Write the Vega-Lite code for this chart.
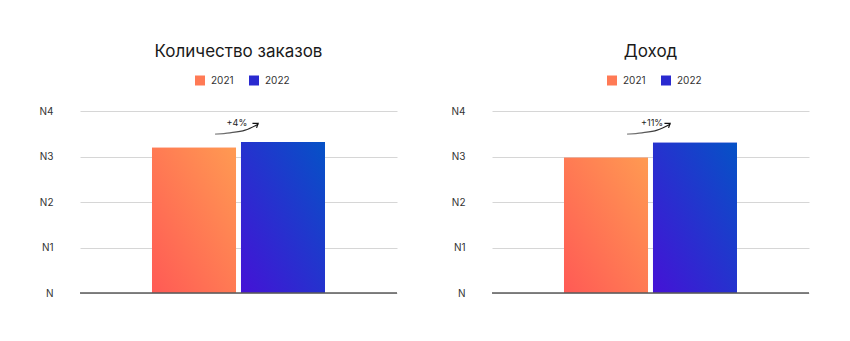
{
  "$schema": "https://vega.github.io/schema/vega-lite/v6.json",
  "background": "white",
  "padding": {"left": 39, "top": 43, "right": 5, "bottom": 5},
  "config": {
    "view": {"stroke": null},
    "font": "Inter",
    "title": {"font": "Inter", "fontSize": 17, "fontWeight": "normal", "color": "#1a1a1a", "anchor": "middle"},
    "axis": {"labelFont": "Inter", "labelFontSize": 10, "labelColor": "#333333"}
  },
  "datasets": {
    "bars": [
      {"panel": "orders", "year": "2021", "value": 3.19},
      {"panel": "orders", "year": "2022", "value": 3.32},
      {"panel": "revenue", "year": "2021", "value": 2.97},
      {"panel": "revenue", "year": "2022", "value": 3.3}
    ],
    "curve": [
      {"pos": 0.426, "v": 3.49, "k": 1},
      {"pos": 0.473, "v": 3.52, "k": 2},
      {"pos": 0.521, "v": 3.58, "k": 3},
      {"pos": 0.562, "v": 3.71, "k": 4}
    ],
    "head": [
      {"pos": 0.544, "v": 3.73, "k": 1},
      {"pos": 0.562, "v": 3.73, "k": 2},
      {"pos": 0.557, "v": 3.63, "k": 3}
    ],
    "labels": [
      {"panel": "orders", "pos": 0.495, "v": 3.74, "label": "+4%"},
      {"panel": "revenue", "pos": 0.505, "v": 3.74, "label": "+11%"}
    ],
    "base": [{"v": 0}]
  },
  "spacing": 53,
  "hconcat": [
    {
      "width": 317,
      "height": 182,
      "title": {"text": "Количество заказов", "offset": 14.5},
      "resolve": {"scale": {"x": "independent"}},
      "layer": [
        {
          "data": {"name": "bars"},
          "transform": [{"filter": "datum.panel === 'orders'"}],
          "mark": {"type": "bar"},
          "encoding": {
            "x": {"field": "year", "type": "nominal", "axis": null, "scale": {"domain": ["2021", "2022"], "paddingInner": 0.056, "paddingOuter": 0.809}},
            "y": {"field": "value", "type": "quantitative", "scale": {"domain": [0, 4], "nice": false},
              "axis": {"values": [0, 1, 2, 3, 4], "labelExpr": "datum.value === 0 ? 'N' : 'N' + datum.value", "title": null, "domain": false, "ticks": false, "grid": true, "gridColor": "#d6d6d6", "gridWidth": 1, "labelPadding": 27}},
            "color": {"field": "year", "type": "nominal", "scale": {"domain": ["2021", "2022"], "range": ["#FF7A55", "#2A2AD0"]},
              "legend": {"title": null, "orient": "none", "legendX": 115, "legendY": -35.5, "direction": "horizontal", "symbolType": "square", "symbolSize": 100, "symbolStrokeWidth": 0, "labelFont": "Inter", "labelFontSize": 10, "labelColor": "#333333", "labelOffset": 6, "columnPadding": 15, "padding": 0,
                "encode": {"symbols": {"update": {"fill": {"signal": "datum.label === '2021' ? {gradient: 'linear', x1: 0, y1: 1, x2: 1, y2: 0, stops: [{offset: 0, color: '#FF5A55'}, {offset: 1, color: '#FF9A52'}]} : {gradient: 'linear', x1: 0, y1: 1, x2: 1, y2: 0, stops: [{offset: 0, color: '#4512D6'}, {offset: 1, color: '#0552C6'}]}"}, "stroke": {"value": "transparent"}}}}}}
          }
        },
        {
          "data": {"name": "bars"},
          "transform": [{"filter": "datum.panel === 'orders' && datum.year === '2021'"}],
          "mark": {"type": "bar", "color": {"gradient": "linear", "x1": 0, "y1": 1, "x2": 1, "y2": 0, "stops": [{"offset": 0, "color": "#FF5A55"}, {"offset": 1, "color": "#FF9A52"}]}},
          "encoding": {
            "x": {"field": "year", "type": "nominal", "axis": null, "scale": {"domain": ["2021", "2022"], "paddingInner": 0.056, "paddingOuter": 0.809}},
            "y": {"field": "value", "type": "quantitative"}
          }
        },
        {
          "data": {"name": "bars"},
          "transform": [{"filter": "datum.panel === 'orders' && datum.year === '2022'"}],
          "mark": {"type": "bar", "color": {"gradient": "linear", "x1": 0, "y1": 1, "x2": 1, "y2": 0, "stops": [{"offset": 0, "color": "#4512D6"}, {"offset": 1, "color": "#0552C6"}]}},
          "encoding": {
            "x": {"field": "year", "type": "nominal", "axis": null, "scale": {"domain": ["2021", "2022"], "paddingInner": 0.056, "paddingOuter": 0.809}},
            "y": {"field": "value", "type": "quantitative"}
          }
        },
        {
          "data": {"name": "base"},
          "mark": {"type": "rule", "color": "#5a5a5a", "strokeWidth": 1.3},
          "encoding": {"y": {"field": "v", "type": "quantitative"}}
        },
        {
          "data": {"name": "curve"},
          "mark": {"type": "line", "interpolate": "monotone", "strokeWidth": 1.2, "stroke": {"gradient": "linear", "x1": 0, "y1": 0, "x2": 1, "y2": 0, "stops": [{"offset": 0, "color": "#8a8a8a"}, {"offset": 1, "color": "#111111"}]}},
          "encoding": {
            "x": {"field": "pos", "type": "quantitative", "axis": null, "scale": {"domain": [0, 1], "nice": false, "zero": false}},
            "y": {"field": "v", "type": "quantitative"},
            "order": {"field": "k"}
          }
        },
        {
          "data": {"name": "head"},
          "mark": {"type": "line", "strokeWidth": 1.2, "color": "#111111"},
          "encoding": {
            "x": {"field": "pos", "type": "quantitative", "axis": null, "scale": {"domain": [0, 1], "nice": false, "zero": false}},
            "y": {"field": "v", "type": "quantitative"},
            "order": {"field": "k"}
          }
        },
        {
          "data": {"name": "labels"},
          "transform": [{"filter": "datum.panel === 'orders'"}],
          "mark": {"type": "text", "font": "Inter", "fontSize": 9, "color": "#222222", "baseline": "middle"},
          "encoding": {
            "x": {"field": "pos", "type": "quantitative", "axis": null, "scale": {"domain": [0, 1], "nice": false, "zero": false}},
            "y": {"field": "v", "type": "quantitative"},
            "text": {"field": "label"}
          }
        }
      ]
    },
    {
      "width": 317,
      "height": 182,
      "title": {"text": "Доход", "offset": 14.5},
      "resolve": {"scale": {"x": "independent"}},
      "layer": [
        {
          "data": {"name": "bars"},
          "transform": [{"filter": "datum.panel === 'revenue'"}],
          "mark": {"type": "bar"},
          "encoding": {
            "x": {"field": "year", "type": "nominal", "axis": null, "scale": {"domain": ["2021", "2022"], "paddingInner": 0.056, "paddingOuter": 0.809}},
            "y": {"field": "value", "type": "quantitative", "scale": {"domain": [0, 4], "nice": false},
              "axis": {"values": [0, 1, 2, 3, 4], "labelExpr": "datum.value === 0 ? 'N' : 'N' + datum.value", "title": null, "domain": false, "ticks": false, "grid": true, "gridColor": "#d6d6d6", "gridWidth": 1, "labelPadding": 27}},
            "color": {"field": "year", "type": "nominal", "scale": {"domain": ["2021", "2022"], "range": ["#FF7A55", "#2A2AD0"]},
              "legend": {"title": null, "orient": "none", "legendX": 115, "legendY": -35.5, "direction": "horizontal", "symbolType": "square", "symbolSize": 100, "symbolStrokeWidth": 0, "labelFont": "Inter", "labelFontSize": 10, "labelColor": "#333333", "labelOffset": 6, "columnPadding": 15, "padding": 0,
                "encode": {"symbols": {"update": {"fill": {"signal": "datum.label === '2021' ? {gradient: 'linear', x1: 0, y1: 1, x2: 1, y2: 0, stops: [{offset: 0, color: '#FF5A55'}, {offset: 1, color: '#FF9A52'}]} : {gradient: 'linear', x1: 0, y1: 1, x2: 1, y2: 0, stops: [{offset: 0, color: '#4512D6'}, {offset: 1, color: '#0552C6'}]}"}, "stroke": {"value": "transparent"}}}}}}
          }
        },
        {
          "data": {"name": "bars"},
          "transform": [{"filter": "datum.panel === 'revenue' && datum.year === '2021'"}],
          "mark": {"type": "bar", "color": {"gradient": "linear", "x1": 0, "y1": 1, "x2": 1, "y2": 0, "stops": [{"offset": 0, "color": "#FF5A55"}, {"offset": 1, "color": "#FF9A52"}]}},
          "encoding": {
            "x": {"field": "year", "type": "nominal", "axis": null, "scale": {"domain": ["2021", "2022"], "paddingInner": 0.056, "paddingOuter": 0.809}},
            "y": {"field": "value", "type": "quantitative"}
          }
        },
        {
          "data": {"name": "bars"},
          "transform": [{"filter": "datum.panel === 'revenue' && datum.year === '2022'"}],
          "mark": {"type": "bar", "color": {"gradient": "linear", "x1": 0, "y1": 1, "x2": 1, "y2": 0, "stops": [{"offset": 0, "color": "#4512D6"}, {"offset": 1, "color": "#0552C6"}]}},
          "encoding": {
            "x": {"field": "year", "type": "nominal", "axis": null, "scale": {"domain": ["2021", "2022"], "paddingInner": 0.056, "paddingOuter": 0.809}},
            "y": {"field": "value", "type": "quantitative"}
          }
        },
        {
          "data": {"name": "base"},
          "mark": {"type": "rule", "color": "#5a5a5a", "strokeWidth": 1.3},
          "encoding": {"y": {"field": "v", "type": "quantitative"}}
        },
        {
          "data": {"name": "curve"},
          "mark": {"type": "line", "interpolate": "monotone", "strokeWidth": 1.2, "stroke": {"gradient": "linear", "x1": 0, "y1": 0, "x2": 1, "y2": 0, "stops": [{"offset": 0, "color": "#8a8a8a"}, {"offset": 1, "color": "#111111"}]}},
          "encoding": {
            "x": {"field": "pos", "type": "quantitative", "axis": null, "scale": {"domain": [0, 1], "nice": false, "zero": false}},
            "y": {"field": "v", "type": "quantitative"},
            "order": {"field": "k"}
          }
        },
        {
          "data": {"name": "head"},
          "mark": {"type": "line", "strokeWidth": 1.2, "color": "#111111"},
          "encoding": {
            "x": {"field": "pos", "type": "quantitative", "axis": null, "scale": {"domain": [0, 1], "nice": false, "zero": false}},
            "y": {"field": "v", "type": "quantitative"},
            "order": {"field": "k"}
          }
        },
        {
          "data": {"name": "labels"},
          "transform": [{"filter": "datum.panel === 'revenue'"}],
          "mark": {"type": "text", "font": "Inter", "fontSize": 9, "color": "#222222", "baseline": "middle"},
          "encoding": {
            "x": {"field": "pos", "type": "quantitative", "axis": null, "scale": {"domain": [0, 1], "nice": false, "zero": false}},
            "y": {"field": "v", "type": "quantitative"},
            "text": {"field": "label"}
          }
        }
      ]
    }
  ],
  "resolve": {"legend": {"color": "independent"}}
}
